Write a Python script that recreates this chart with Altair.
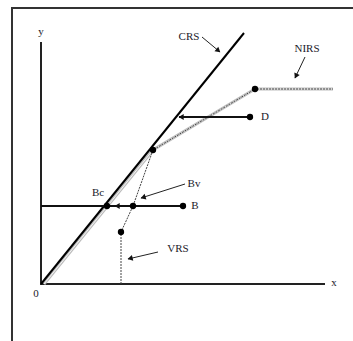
import altair as alt
import pandas as pd
import numpy as np

# --- data (conceptual units; origin at the axes' corner) ---
frame_x = [-2.9, -2.9, 31.2]
frame_y = [-5.7, 27.6, 27.6]

axis_x = [0.0, 0.0, 28.4]
axis_y = [24.2, 0.0, 0.0]

crs_x = [0.0, 20.3]
crs_y = [0.0, 25.1]

nirs_x = [0.3, 11.2, 21.4, 29.2]
nirs_y = [0.0, 13.4, 19.5, 19.5]

vrs_x = [8.0, 8.0, 9.2, 11.2, 21.4, 29.2]
vrs_y = [0.0, 5.2, 7.8, 13.4, 19.5, 19.5]

# thick projection lines (start -> end)
proj_x1 = [0.0, 20.9]
proj_y1 = [7.8, 16.7]
proj_x2 = [14.2, 13.8]
proj_y2 = [7.8, 16.7]

# thin label arrows (start -> tip)
lab_x1 = [16.1, 26.4, 14.4, 11.7]
lab_y1 = [24.7, 22.7, 10.0, 3.2]
lab_x2 = [17.9, 25.4, 10.0, 8.7]
lab_y2 = [23.2, 20.6, 8.6, 2.5]

# arrow heads on the thick lines: tips and directions
head_tip_x = [7.4, 13.8]
head_tip_y = [7.8, 16.7]
head_dir_x = [-1.0, -1.0]
head_dir_y = [0.0, 0.0]

pt_names = ["Bc", "Bv", "B", "VRSpt", "kink1", "kink2", "D"]
pt_x = [6.6, 9.2, 14.2, 8.0, 11.2, 21.4, 20.9]
pt_y = [7.8, 7.8, 7.8, 5.2, 13.4, 19.5, 16.7]

labels = ["y", "x", "0", "CRS", "NIRS", "D", "Bv", "B", "Bc", "VRS"]
label_x = [0.0, 29.3, -0.5, 14.8, 26.6, 22.4, 15.3, 15.4, 5.7, 13.7]
label_y = [25.2, 0.1, -1.0, 24.7, 23.5, 16.7, 10.0, 7.8, 9.1, 3.5]

# --- scales (10 px per unit) ---
xs = alt.Scale(domain=[-4.1, 31.2], nice=False, zero=False)
ys = alt.Scale(domain=[-5.7, 28.4], nice=False, zero=False)
X = lambda f: alt.X(f, type="quantitative", scale=xs, axis=None)
Y = lambda f: alt.Y(f, type="quantitative", scale=ys, axis=None)

def poly(xv, yv):
    return pd.DataFrame({"x": xv, "y": yv, "o": list(range(len(xv)))})

frame = alt.Chart(poly(frame_x, frame_y)).mark_line(color="#333", strokeWidth=2, clip=False).encode(
    x=X("x"), y=Y("y"), order="o:Q")
axes = alt.Chart(poly(axis_x, axis_y)).mark_line(color="#222", strokeWidth=2).encode(
    x=X("x"), y=Y("y"), order="o:Q")
crs = alt.Chart(poly(crs_x, crs_y)).mark_line(color="#000", strokeWidth=2).encode(
    x=X("x"), y=Y("y"), order="o:Q")
nirs = alt.Chart(poly(nirs_x, nirs_y)).mark_line(color="#bdbdbd", strokeWidth=3).encode(
    x=X("x"), y=Y("y"), order="o:Q")
nirs_in = alt.Chart(poly(nirs_x, nirs_y)).mark_line(color="#f4f4f4", strokeWidth=1).encode(
    x=X("x"), y=Y("y"), order="o:Q")
vrs = alt.Chart(poly(vrs_x, vrs_y)).mark_line(color="#444", strokeWidth=1, strokeDash=[2, 1]).encode(
    x=X("x"), y=Y("y"), order="o:Q")

proj_df = pd.DataFrame({"x": proj_x1, "y": proj_y1, "x2": proj_x2, "y2": proj_y2})
proj = alt.Chart(proj_df).mark_rule(color="#111", strokeWidth=2).encode(
    x=X("x"), y=Y("y"), x2="x2", y2="y2")

lab_df = pd.DataFrame({"x": lab_x1, "y": lab_y1, "x2": lab_x2, "y2": lab_y2})
lab_lines = alt.Chart(lab_df).mark_rule(color="#222", strokeWidth=1).encode(
    x=X("x"), y=Y("y"), x2="x2", y2="y2")

# arrow heads
hx = list(head_tip_x) + list(lab_x2)
hy = list(head_tip_y) + list(lab_y2)
dx = list(head_dir_x) + [b - a for a, b in zip(lab_x1, lab_x2)]
dy = list(head_dir_y) + [b - a for a, b in zip(lab_y1, lab_y2)]
dx = np.array(dx, dtype=float)
dy = np.array(dy, dtype=float)
n = np.hypot(dx, dy)
ux, uy = dx / n, dy / n
ang = (np.degrees(np.arctan2(ux, uy)) + 360) % 360
back = 0.3
head_df = pd.DataFrame({"x": np.array(hx) - ux * back, "y": np.array(hy) - uy * back, "a": ang})
heads = alt.Chart(head_df).mark_point(shape="triangle", filled=True, color="#111", size=35, opacity=1).encode(
    x=X("x"), y=Y("y"), angle=alt.Angle("a:Q", scale=None))

pts_df = pd.DataFrame({"n": pt_names, "x": pt_x, "y": pt_y})
pts = alt.Chart(pts_df).mark_circle(color="#000", size=40, opacity=1).encode(x=X("x"), y=Y("y"))

lbl_df = pd.DataFrame({"t": labels, "x": label_x, "y": label_y})
lbls = alt.Chart(lbl_df).mark_text(font="Liberation Serif", fontSize=11, color="#1a1a2a",
                                   align="center", baseline="middle").encode(
    x=X("x"), y=Y("y"), text="t:N")

chart = alt.layer(frame, axes, nirs, nirs_in, vrs, crs, proj, lab_lines, heads, pts, lbls).properties(
    width=353, height=341, padding=0, autosize=alt.AutoSizeParams(type="none"), background="white"
).configure_view(stroke=None)

chart.save("out.html", embed_options={"renderer": "svg", "actions": False})
